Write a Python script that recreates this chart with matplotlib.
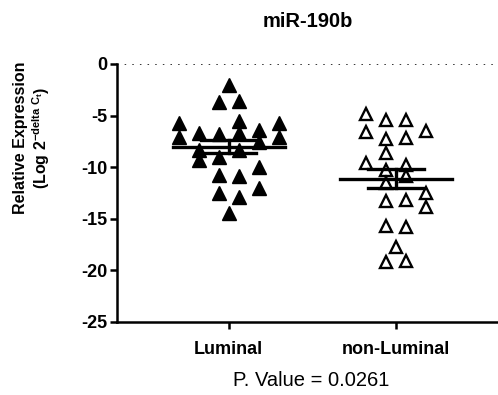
import matplotlib.pyplot as plt
import numpy as np

plt.rcParams['font.family'] = ['Liberation Sans', 'DejaVu Sans']
plt.rcParams['mathtext.fontset'] = 'custom'
plt.rcParams['mathtext.rm'] = 'Liberation Sans:bold'
plt.rcParams['mathtext.it'] = 'Liberation Sans:bold'
plt.rcParams['mathtext.bf'] = 'Liberation Sans:bold'

groups = ["Luminal", "non-Luminal"]

# values
luminal = [-2.0, -3.7, -3.6, -5.7, -5.5, -5.7, -7.1, -6.7, -6.8, -6.65, -6.4, -7.1,
           -7.6, -8.3, -8.3, -9.3, -9.0, -9.95, -10.75, -10.85, -12.0, -12.5, -12.9, -14.4]
luminal_col = [0, -0.5, 0.5, -2.5, 0.5, 2.5, -2.5, -1.5, -0.5, 0.5, 1.5, 2.5,
               1.5, -1.5, 0.5, -1.5, -0.5, 1.5, -0.5, 0.5, 1.5, -0.5, 0.5, 0]

non_luminal = [-4.84, -5.43, -5.43, -6.56, -7.3, -7.14, -6.46, -8.6, -9.56, -10.27, -9.79,
               -10.9, -11.5, -12.5, -13.3, -13.2, -13.9, -15.7, -15.8, -17.7, -19.2, -19.1]
non_luminal_col = [-1.5, -0.5, 0.5, -1.5, -0.5, 0.5, 1.5, -0.5, -1.5, -0.5, 0.5,
                   0.5, -0.5, 1.5, -0.5, 0.5, 1.5, -0.5, 0.5, 0, -0.5, 0.5]

p_value = "0.0261"

fig = plt.figure(figsize=(4.98, 3.95), dpi=100)
ax = fig.add_axes([0.235, 0.185, 0.765, 0.653])

step = 0.12
ax.plot(1 + np.array(luminal_col) * step, luminal, '^', color='black',
        markersize=9.5, linestyle='none', zorder=3)
ax.plot(2 + np.array(non_luminal_col) * step, non_luminal, '^', markerfacecolor='white',
        markeredgecolor='black', markeredgewidth=1.7, markersize=8.5, linestyle='none', zorder=3)

# mean and SEM
for i, vals in enumerate([luminal, non_luminal]):
    x = i + 1
    m = np.mean(vals)
    sem = np.std(vals, ddof=1) / np.sqrt(len(vals))
    ax.plot([x - 0.335, x + 0.335], [m, m], color='black', lw=2.4, zorder=4)
    ax.plot([x, x], [m - sem, m + sem], color='black', lw=2.4, zorder=4)
    for yy in (m - sem, m + sem):
        ax.plot([x - 0.165, x + 0.165], [yy, yy], color='black', lw=2.4, zorder=4)

ax.axhline(0, color='black', lw=1.1, linestyle=(0, (1, 4)), zorder=1)

ax.set_xlim(0.332, 2.61)
ax.set_ylim(-25, 0)
ax.set_xticks([1, 2])
ax.set_xticklabels(groups, fontweight='bold', fontsize=13)
ax.set_yticks([0, -5, -10, -15, -20, -25])
ax.set_yticklabels(['0', '-5', '-10', '-15', '-20', '-25'], fontweight='bold', fontsize=13)
ax.tick_params(width=1.8, length=5, pad=2)
ax.tick_params(axis='x', pad=9)
for s in ['top', 'right']:
    ax.spines[s].set_visible(False)
for s in ['left', 'bottom']:
    ax.spines[s].set_linewidth(1.8)

fig.text(0.065, 0.65, "Relative Expression\n(Log 2$^{\\mathrm{-delta\\ C_t}}$)",
         rotation=90, ha='center', va='center', fontweight='bold', fontsize=11.5,
         linespacing=1.15, multialignment='center')

fig.text(0.619, 0.932, "miR-190b", ha='center', va='baseline', fontweight='bold', fontsize=14.5)
fig.text(0.624, 0.023, "P. Value = " + p_value, ha='center', va='baseline', fontsize=14.5)

fig.savefig("out.png", dpi=100)
